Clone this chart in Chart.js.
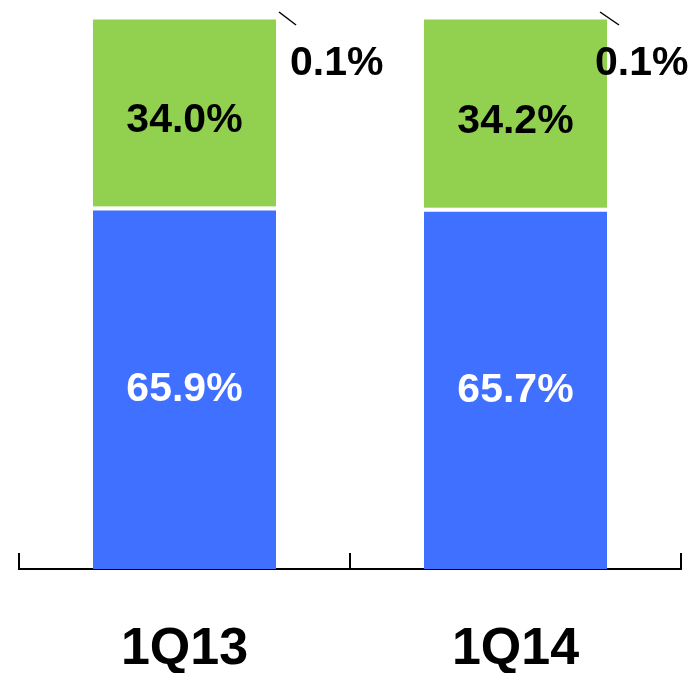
<!DOCTYPE html>
<html>
<head>
<meta charset="utf-8">
<script src="https://cdn.jsdelivr.net/npm/chart.js@4.4.1/dist/chart.umd.min.js"></script>
<style>
  html, body { margin: 0; padding: 0; background: #fff; }
  #wrap { width: 696px; height: 673px; position: relative; }
</style>
</head>
<body>
<div id="wrap"><canvas id="myChart"></canvas></div>
<script>
const quarters = ["1Q13", "1Q14"];
const blueShare = [65.9, 65.7];
const greenShare = [34.0, 34.2];
const otherShare = [0.1, 0.1];

const blue = "#4070FF";
const green = "#92D050";
const font = "'Liberation Sans', Arial, sans-serif";

// value labels + leader lines + upward tick marks on the x axis
const labelPlugin = {
    id: "labels",
    afterDatasetsDraw(chart) {
        const ctx = chart.ctx;
        const area = chart.chartArea;
        const xs = chart.scales.x;
        ctx.save();
        ctx.font = "bold 41px " + font;
        ctx.textAlign = "center";
        ctx.textBaseline = "middle";

        chart.getDatasetMeta(0).data.forEach((bar, i) => {
            ctx.fillStyle = "#fff";
            ctx.fillText(blueShare[i].toFixed(1) + "%", bar.x, (bar.y + bar.base) / 2 + 2);
        });
        chart.getDatasetMeta(1).data.forEach((bar, i) => {
            ctx.fillStyle = "#000";
            ctx.fillText(greenShare[i].toFixed(1) + "%", bar.x, (bar.y + bar.base) / 2 + 8);
        });

        const labelDx = [14, -12];
        const lineFrom = [3, -7];
        const lineTo = [20, 12];
        chart.getDatasetMeta(2).data.forEach((bar, i) => {
            const right = bar.x + bar.width / 2;
            ctx.strokeStyle = "#000";
            ctx.lineWidth = 1.5;
            ctx.beginPath();
            ctx.moveTo(right + lineFrom[i], bar.y - 7);
            ctx.lineTo(right + lineTo[i], bar.y + 6);
            ctx.stroke();
            ctx.fillStyle = "#000";
            ctx.textAlign = "left";
            ctx.fillText(otherShare[i].toFixed(1) + "%", right + labelDx[i], bar.y + 45);
        });

        // tick marks between categories, pointing up from the axis
        const half = (xs.getPixelForValue(1) - xs.getPixelForValue(0)) / 2;
        const ticks = [xs.getPixelForValue(0) - half];
        quarters.forEach((q, i) => ticks.push(xs.getPixelForValue(i) + half));
        ctx.strokeStyle = "#000";
        ctx.lineWidth = 2;
        ticks.forEach(x => {
            ctx.beginPath();
            ctx.moveTo(x, area.bottom);
            ctx.lineTo(x, area.bottom - 16);
            ctx.stroke();
        });
        ctx.restore();
    }
};

const ctx = document.getElementById("myChart").getContext("2d");

const config = {
    type: "bar",
    data: {
        labels: quarters,
        datasets: [
            {
                label: "blue",
                data: blueShare,
                backgroundColor: blue,
                borderColor: "#fff",
                borderWidth: { top: 4, left: 0, right: 0, bottom: 0 },
                borderSkipped: false
            },
            {
                label: "green",
                data: greenShare,
                backgroundColor: green,
                borderWidth: 0
            },
            {
                label: "other",
                data: otherShare,
                backgroundColor: "rgba(255,255,255,0)",
                borderWidth: 0
            }
        ]
    },
    options: {
        responsive: true,
        maintainAspectRatio: false,
        animation: false,
        barPercentage: 0.553,
        categoryPercentage: 1,
        layout: {
            padding: { top: 19, left: 19, right: 15, bottom: 0 }
        },
        plugins: {
            legend: { display: false },
            tooltip: { enabled: false }
        },
        scales: {
            x: {
                stacked: true,
                grid: { display: false, drawTicks: false },
                border: { display: true, color: "#000", width: 2 },
                ticks: {
                    color: "#000",
                    padding: 55,
                    font: { family: font, size: 52, weight: "bold", lineHeight: 1 }
                },
                afterFit(scale) {
                    scale.height = 104;
                }
            },
            y: {
                stacked: true,
                display: false,
                min: 0,
                max: 100
            }
        }
    },
    plugins: [labelPlugin]
};

const myChart = new Chart(ctx, config);
</script>
</body>
</html>
